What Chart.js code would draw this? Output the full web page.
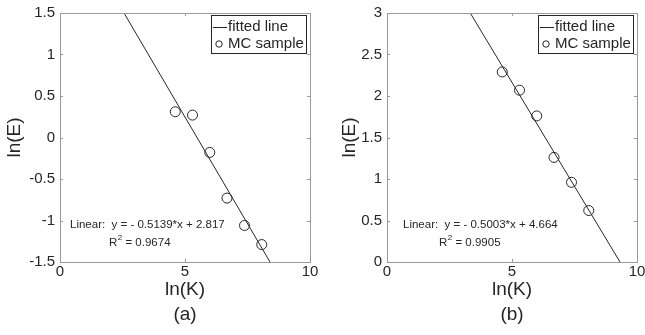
<!DOCTYPE html>
<html>
<head>
<meta charset="utf-8">
<script src="https://cdn.jsdelivr.net/npm/chart.js@4.4.1/dist/chart.umd.min.js"></script>
<style>
  html, body { margin: 0; padding: 0; background: #ffffff; }
  #wrap { position: relative; width: 645px; height: 335px; overflow: hidden; }
  .panel { position: absolute; top: 0; height: 335px; }
</style>
</head>
<body>
<div id="wrap">
  <div class="panel" style="left:0;width:322px"><canvas id="chart-a" width="322" height="335"></canvas></div>
  <div class="panel" style="left:322px;width:323px"><canvas id="chart-b" width="323" height="335"></canvas></div>
</div>
<script>
// --- data ---
const lnK = [4.61, 5.30, 5.99, 6.68, 7.38, 8.07];
const lnE_a = [0.31, 0.27, -0.18, -0.73, -1.06, -1.29];
const lnE_b = [2.29, 2.07, 1.76, 1.26, 0.96, 0.62];

// fitted line end points (where it leaves the axes box)
const fitX_a = [2.56, 8.40];
const fitY_a = [1.5, -1.5];
const fitX_b = [3.33, 9.32];
const fitY_b = [3, 0];

const fitText_a = ['Linear:  y = - 0.5139*x + 2.817', '0.9674'];
const fitText_b = ['Linear:  y = - 0.5003*x + 4.664', '0.9905'];

const legendLabels = ['fitted line', 'MC sample'];

const FONT = '"Liberation Sans", Arial, sans-serif';
const TEXT = '#262626';
const AXIS = '#9a9a9a';

function toPoints(xs, ys) {
    return xs.map((x, i) => ({ x: x, y: ys[i] }));
}

// MATLAB-like box with inward ticks on all four sides
const boxPlugin = {
    id: 'matlabBox',
    afterDatasetsDraw(chart) {
        const { ctx, chartArea: a, scales } = chart;
        ctx.save();
        ctx.strokeStyle = AXIS;
        ctx.lineWidth = 1;
        ctx.strokeRect(a.left + 0.5, a.top + 0.5, a.right - a.left, a.bottom - a.top);
        ctx.beginPath();
        const t = 3;
        scales.x.ticks.forEach(tk => {
            const px = Math.round(scales.x.getPixelForValue(tk.value)) + 0.5;
            ctx.moveTo(px, a.bottom); ctx.lineTo(px, a.bottom - t);
            ctx.moveTo(px, a.top); ctx.lineTo(px, a.top + t);
        });
        scales.y.ticks.forEach(tk => {
            const py = Math.round(scales.y.getPixelForValue(tk.value)) + 0.5;
            ctx.moveTo(a.left, py); ctx.lineTo(a.left + t, py);
            ctx.moveTo(a.right, py); ctx.lineTo(a.right - t, py);
        });
        ctx.stroke();
        ctx.restore();
    }
};

// legend box in the top right corner + fit equation text
const notePlugin = {
    id: 'fitNotes',
    afterDraw(chart, args, opts) {
        const { ctx, chartArea: a } = chart;
        const ds = chart.data.datasets;
        ctx.save();
        // legend
        const w = 95, h = 38;
        const lx = a.right - 4 - w, ly = a.top + 2;
        ctx.fillStyle = '#ffffff';
        ctx.fillRect(lx, ly, w, h);
        ctx.strokeStyle = TEXT;
        ctx.lineWidth = 1;
        ctx.strokeRect(lx + 0.5, ly + 0.5, w, h);
        ctx.font = '15px ' + FONT;
        ctx.fillStyle = TEXT;
        ctx.textBaseline = 'middle';
        ctx.textAlign = 'left';
        ctx.beginPath();
        ctx.moveTo(lx + 2, ly + 12.5); ctx.lineTo(lx + 16, ly + 12.5);
        ctx.stroke();
        ctx.fillText(ds[0].label, lx + 17, ly + 12);
        ctx.beginPath();
        ctx.arc(lx + 8, ly + 29, 3.2, 0, Math.PI * 2);
        ctx.stroke();
        ctx.fillText(ds[1].label, lx + 17, ly + 29);

        // fit text
        const tx = a.left + opts.dx, ty = a.top + 212;
        ctx.font = '11.5px ' + FONT;
        ctx.fillText(opts.text[0], tx, ty);
        const rx = a.left + opts.rx, ry = ty + 18;
        ctx.fillText('R', rx, ry);
        const rw = ctx.measureText('R').width;
        ctx.font = '8px ' + FONT;
        ctx.fillText('2', rx + rw + 0.5, ry - 5);
        const sw = ctx.measureText('2').width;
        ctx.font = '11.5px ' + FONT;
        ctx.fillText(' = ' + opts.text[1], rx + rw + sw + 0.5, ry);
        ctx.restore();
    }
};

function makeChart(id, pts, fitX, fitY, yMin, yMax, yAxisWidth, yTitlePad, tag, rightPad, note) {
    const ctx = document.getElementById(id).getContext('2d');
    return new Chart(ctx, {
        type: 'scatter',
        data: {
            datasets: [
                {
                    type: 'line',
                    label: legendLabels[0],
                    data: toPoints(fitX, fitY),
                    borderColor: TEXT,
                    borderWidth: 1,
                    pointRadius: 0,
                    fill: false
                },
                {
                    label: legendLabels[1],
                    data: toPoints(lnK, pts),
                    backgroundColor: '#ffffff',
                    borderColor: TEXT,
                    borderWidth: 1,
                    pointRadius: 5,
                    pointStyle: 'circle'
                }
            ]
        },
        options: {
            responsive: false,
            animation: false,
            layout: { padding: { top: 13, right: rightPad, bottom: 0, left: 0 } },
            plugins: {
                legend: { display: false },
                tooltip: { enabled: false },
                fitNotes: note
            },
            scales: {
                x: {
                    type: 'linear',
                    min: 0, max: 10,
                    ticks: { stepSize: 5, color: TEXT, font: { family: FONT, size: 15 }, padding: 1, maxRotation: 0 },
                    grid: { display: false, drawTicks: false },
                    border: { display: false },
                    title: {
                        display: true,
                        text: ['ln(K)', tag],
                        color: TEXT,
                        font: { family: FONT, size: 19, lineHeight: 1.32 },
                        padding: { top: 0, bottom: 7.5 }
                    },
                    afterFit: s => { s.height = 73; s.paddingLeft = 0; s.paddingRight = 0; }
                },
                y: {
                    min: yMin, max: yMax,
                    ticks: {
                        stepSize: 0.5, color: TEXT, font: { family: FONT, size: 15 }, padding: 5,
                        callback: v => String(Number(v.toFixed(1)))
                    },
                    grid: { display: false, drawTicks: false },
                    border: { display: false },
                    title: {
                        display: true,
                        text: 'ln(E)',
                        color: TEXT,
                        font: { family: FONT, size: 19, lineHeight: 1.2 },
                        padding: { top: yTitlePad, bottom: 0 }
                    },
                    afterFit: s => { s.width = yAxisWidth; s.paddingTop = 0; s.paddingBottom = 0; }
                }
            }
        },
        plugins: [boxPlugin, notePlugin]
    });
}

makeChart('chart-a', lnE_a, fitX_a, fitY_a, -1.5, 1.5, 60, 3.6, '(a)', 12, { text: fitText_a, dx: 10, rx: 49 });
makeChart('chart-b', lnE_b, fitX_b, fitY_b, 0, 3, 65, 16.6, '(b)', 8, { text: fitText_b, dx: 16, rx: 52 });
</script>
</body>
</html>
